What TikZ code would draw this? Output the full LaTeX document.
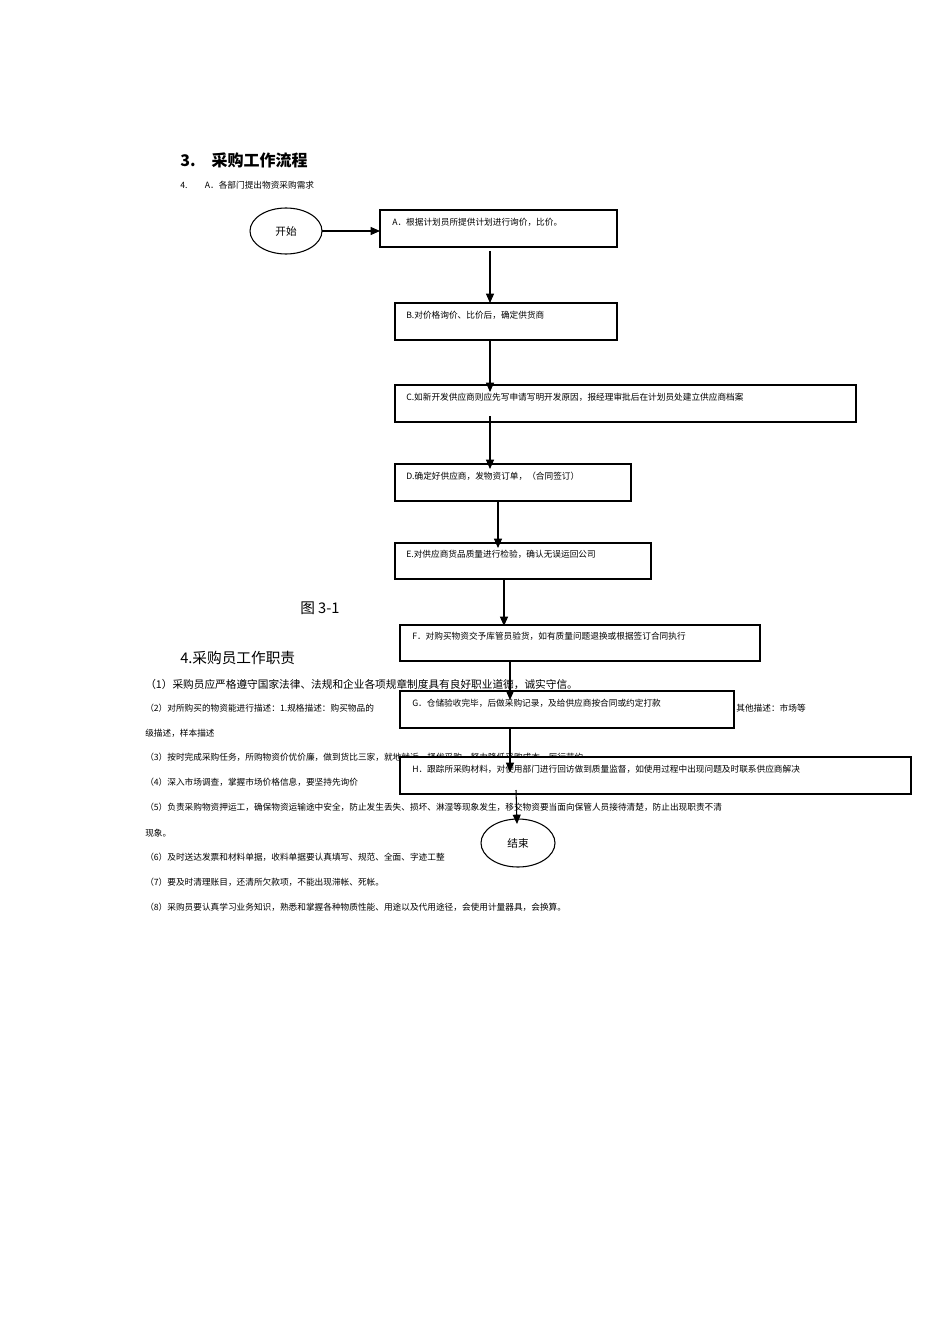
\documentclass[tikz,border=0pt]{standalone}
\usepackage{fontspec}
\setmainfont{Noto Sans CJK SC}
\usetikzlibrary{arrows.meta}
\begin{document}
\begin{tikzpicture}[x=0.75pt,y=-0.75pt,
  box/.style={draw,thick,fill=white},
  oval/.style={draw,thick,fill=white,ellipse},
  lbl/.style={anchor=west,inner sep=0,font=\fontsize{6.5}{7}\selectfont},
  body/.style={anchor=west,inner sep=0,font=\fontsize{6.5}{7}\selectfont},
  arr/.style={-{Triangle[length=7pt,width=6pt]},thick}]
\useasboundingbox (0,0) rectangle (950,1344);
\node[anchor=west,inner sep=0,font=\fontsize{12}{13}\bfseries] (t1) at (180,160) {3.\quad 采购工作流程};
\node[body] (t2) at (180,185) {4.\qquad A．各部门提出物资采购需求};
\node[anchor=west,inner sep=0,font=\fontsize{11}{12}\selectfont] (fig) at (300,608) {图 3-1};
\node[anchor=west,inner sep=0,font=\fontsize{11}{12}\selectfont] (t3) at (180,658) {4.采购员工作职责};
\node[anchor=west,inner sep=0,font=\fontsize{8}{9}\selectfont] (p1) at (145,684) {（1）采购员应严格遵守国家法律、法规和企业各项规章制度具有良好职业道德，诚实守信。};
\node[body] (p2a) at (145,708) {（2）对所购买的物资能进行描述：1.规格描述：购买物品的};
\node[body,anchor=east] (p2b) at (806,708) {其他描述：市场等};
\node[body] (p2c) at (145,733) {级描述，样本描述};
\node[body] (p3) at (145,757) {（3）按时完成采购任务，所购物资价优价廉，做到货比三家，就地就近，择优采购，努力降低采购成本，厉行节约};
\node[body] (p4) at (145,782) {（4）深入市场调查，掌握市场价格信息，要坚持先询价};
\node[body] (p5) at (145,807) {（5）负责采购物资押运工，确保物资运输途中安全，防止发生丢失、损坏、淋湿等现象发生，移交物资要当面向保管人员接待清楚，防止出现职责不清};
\node[body] (p5b) at (145,833) {现象。};
\node[body] (p6) at (145,857) {（6）及时送达发票和材料单据，收料单据要认真填写、规范、全面、字迹工整};
\node[body] (p7) at (145,882) {（7）要及时清理账目，还清所欠款项，不能出现滞帐、死帐。};
\node[body] (p8) at (145,907) {（8）采购员要认真学习业务知识，熟悉和掌握各种物质性能、用途以及代用途径，会使用计量器具，会换算。};

\draw[box] (380,210) rectangle (617,247) coordinate (Ae);
\node[lbl] (A) at (392,222) {A．根据计划员所提供计划进行询价，比价。};
\draw[box] (395,303) rectangle (617,340);
\node[lbl] (B) at (406,315) {B.对价格询价、比价后，确定供货商};
\draw[box] (395,385) rectangle (856,422);
\node[lbl] (C) at (406,397) {C.如新开发供应商则应先写申请写明开发原因，报经理审批后在计划员处建立供应商档案};
\draw[box] (395,464) rectangle (631,501);
\node[lbl] (D) at (406,476) {D.确定好供应商，发物资订单，（合同签订）};
\draw[box] (395,543) rectangle (651,579);
\node[lbl] (E) at (406,554) {E.对供应商货品质量进行检验，确认无误运回公司};
\draw[box] (400,625) rectangle (760,661);
\node[lbl] (F) at (412,636) {F．对购买物资交予库管员验货，如有质量问题退换或根据签订合同执行};
\draw[box] (400,691) rectangle (734,728);
\node[lbl] (G) at (412,703) {G．仓储验收完毕，后做采购记录，及给供应商按合同或约定打款};
\draw[box] (400,757) rectangle (911,794);
\node[lbl] (H) at (412,769) {H．跟踪所采购材料，对使用部门进行回访做到质量监督，如使用过程中出现问题及时联系供应商解决};

\draw[thick,fill=white] (286,231) ellipse [x radius=36,y radius=23];
\node (S) at (286,231) {\fontsize{8}{9}\selectfont 开始};
\draw[thick,fill=white] (518,843) ellipse [x radius=37,y radius=24];
\node (End) at (518,843) {\fontsize{8}{9}\selectfont 结束};

\coordinate (s0) at (322,231); \coordinate (s1) at (380,231);
\draw[arr] (s0) -- (s1);
\coordinate (a0) at (490,251); \coordinate (a1) at (490,303);
\draw[arr] (a0) -- (a1);
\coordinate (b0) at (490,340); \coordinate (b1) at (490,392);
\draw[arr] (b0) -- (b1);
\coordinate (c0) at (490,416); \coordinate (c1) at (490,469);
\draw[arr] (c0) -- (c1);
\coordinate (d0) at (498,501); \coordinate (d1) at (498,548);
\draw[arr] (d0) -- (d1);
\coordinate (e0) at (504,579); \coordinate (e1) at (504,626);
\draw[arr] (e0) -- (e1);
\coordinate (f0) at (510,661); \coordinate (f1) at (510,700);
\draw[arr] (f0) -- (f1);
\coordinate (g0) at (510,728); \coordinate (g1) at (510,772);
\draw[arr] (g0) -- (g1);
\coordinate (h0) at (516,790); \coordinate (h1) at (517,824);
\draw[arr] (h0) -- (h1);
\end{tikzpicture}
\end{document}
